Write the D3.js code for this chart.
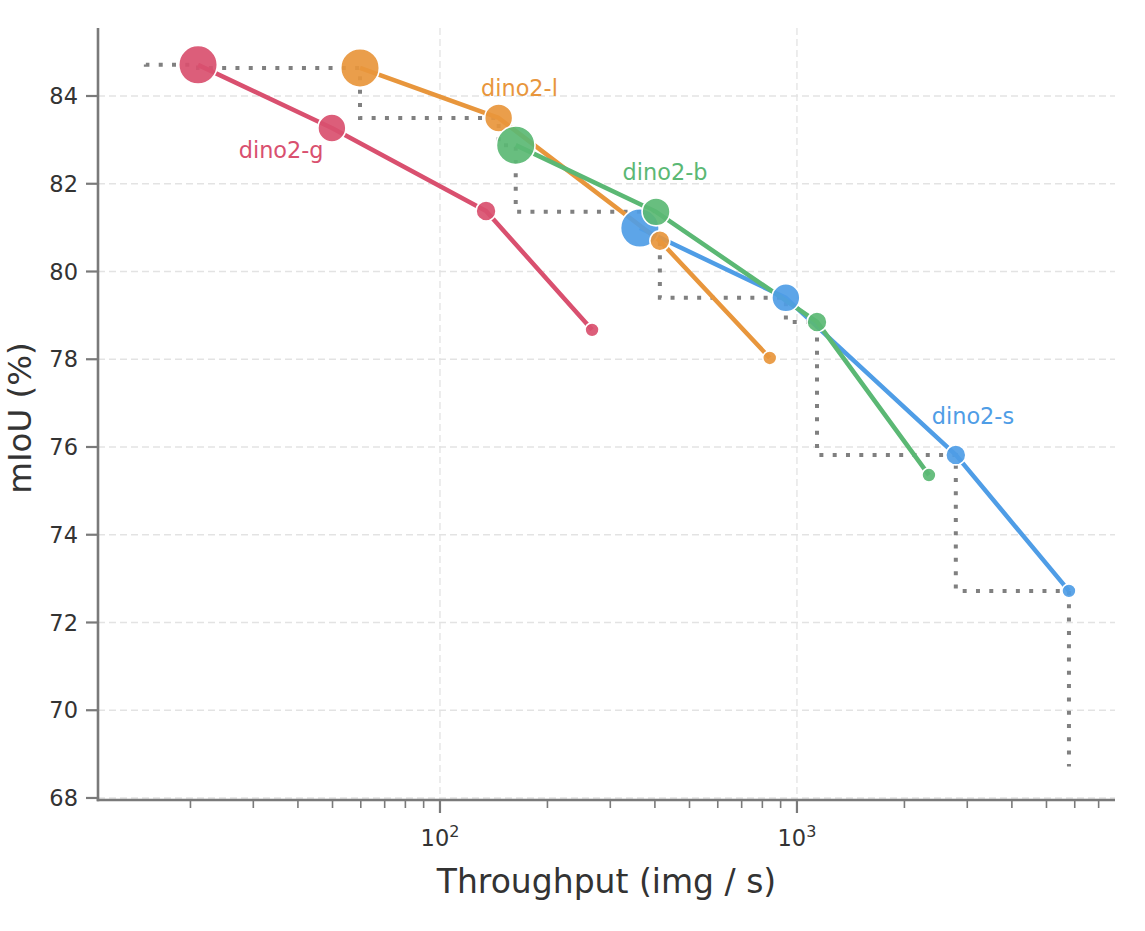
<!DOCTYPE html>
<html><head><meta charset="utf-8">
<script src="https://cdn.jsdelivr.net/npm/d3@7"></script>
<style>body{margin:0;background:#fff} svg{display:block} text{font-family:"DejaVu Sans",sans-serif}</style>
</head><body>
<svg id="chart" width="1145" height="931"></svg>
<script>
// ---- data ----
const seriesNames = ["dino2-s", "dino2-l", "dino2-b", "dino2-g"];
const throughputS = [363, 931, 2786, 5780];
const miouS = [80.99, 79.40, 75.82, 72.72];
const throughputL = [59.7, 146, 413, 839];
const miouL = [84.64, 83.50, 80.70, 78.03];
const throughputB = [163, 403, 1138, 2343];
const miouB = [82.88, 81.36, 78.85, 75.36];
const throughputG = [21.0, 49.8, 134.6, 266.7];
const miouG = [84.71, 83.27, 81.38, 78.67];
const sizeLevel = [4, 3, 2, 1];
const frontierX = [15, 21.0, 59.7, 146, 163, 403, 413, 931, 1138, 2786, 5780, 5780];
const frontierY = [84.72, 84.71, 84.64, 83.50, 82.88, 81.36, 80.70, 79.40, 78.85, 75.82, 72.72, 68.72];
const labelText = ["dino2-s", "dino2-l", "dino2-b", "dino2-g"];
const labelX = [3112, 167, 427, 35.9];
const labelY = [76.52, 84.0, 82.08, 82.58];
const yTicks = [68, 70, 72, 74, 76, 78, 80, 82, 84];
const xMajorTicks = [100, 1000];
const xMajorExp = ["2", "3"];
const xMinorTicks = [20, 30, 40, 50, 60, 70, 80, 90, 200, 300, 400, 500, 600, 700, 800, 900, 2000, 3000, 4000, 5000, 6000, 7000];

const colors = {"dino2-s": "#4f9de6", "dino2-l": "#e8963c", "dino2-b": "#5bb874", "dino2-g": "#d9506f"};
const seriesX = {"dino2-s": throughputS, "dino2-l": throughputL, "dino2-b": throughputB, "dino2-g": throughputG};
const seriesY = {"dino2-s": miouS, "dino2-l": miouL, "dino2-b": miouB, "dino2-g": miouG};

const svg = d3.select("#chart");
const L = 98, R = 1115, T = 28, B = 800;
const x = d3.scaleLog().domain([11.016, 7779]).range([L, R]);
const y = d3.scaleLinear().domain([67.954, 85.55]).range([B, T]);
const r = d3.scaleOrdinal().domain([1, 2, 3, 4]).range([7, 10, 14, 19.3]);

// grid
const grid = svg.append("g");
grid.selectAll(".hg").data(yTicks).join("line")
  .attr("x1", L).attr("x2", R).attr("y1", d => y(d)).attr("y2", d => y(d))
  .attr("stroke", "#e3e3e3").attr("stroke-width", 1.3).attr("stroke-dasharray", "7 4");
grid.selectAll(".vg").data(xMajorTicks).join("line")
  .attr("x1", d => x(d)).attr("x2", d => x(d)).attr("y1", T).attr("y2", B)
  .attr("stroke", "#e3e3e3").attr("stroke-width", 1.3).attr("stroke-dasharray", "7 4");

// frontier
const frontier = frontierX.map((v, i) => [v, frontierY[i]]);
svg.append("path").datum(frontier)
  .attr("d", d3.line().x(d => x(d[0])).y(d => y(d[1])).curve(d3.curveStepBefore))
  .attr("fill", "none").attr("stroke", "#808080").attr("stroke-width", 4)
  .attr("stroke-dasharray", "4 9.3");

// lines
const lineGen = d3.line().x(d => x(d[0])).y(d => y(d[1]));
seriesNames.forEach(s => {
  const pts = seriesX[s].map((v, i) => [v, seriesY[s][i]]);
  svg.append("path").datum(pts).attr("d", lineGen)
    .attr("fill", "none").attr("stroke", colors[s]).attr("stroke-width", 4.5)
    .attr("stroke-linejoin", "round");
});
// points
seriesNames.forEach(s => {
  const pts = seriesX[s].map((v, i) => ({x: v, y: seriesY[s][i], lvl: sizeLevel[i]}));
  svg.append("g").selectAll("circle").data(pts).join("circle")
    .attr("cx", d => x(d.x)).attr("cy", d => y(d.y)).attr("r", d => r(d.lvl))
    .attr("fill", colors[s]).attr("fill-opacity", 0.92)
    .attr("stroke", "#fff").attr("stroke-width", 1.6);
});

// series labels
svg.append("g").selectAll("text").data(labelText).join("text")
  .attr("x", (d, i) => x(labelX[i])).attr("y", (d, i) => y(labelY[i]))
  .attr("text-anchor", "middle").attr("font-size", 22.4)
  .attr("fill", d => colors[d]).text(d => d);

// axes spines
svg.append("line").attr("x1", L).attr("x2", L).attr("y1", T).attr("y2", B + 1.3)
  .attr("stroke", "#7a7a7a").attr("stroke-width", 2.6);
svg.append("line").attr("x1", L - 1.3).attr("x2", R).attr("y1", B).attr("y2", B)
  .attr("stroke", "#7a7a7a").attr("stroke-width", 2.6);

// y ticks
const yt = svg.append("g");
yt.selectAll("line").data(yTicks).join("line")
  .attr("x1", L - 12).attr("x2", L).attr("y1", d => y(d)).attr("y2", d => y(d))
  .attr("stroke", "#7a7a7a").attr("stroke-width", 2.2);
yt.selectAll("text").data(yTicks).join("text")
  .attr("x", L - 20).attr("y", d => y(d)).attr("dy", "0.36em")
  .attr("text-anchor", "end").attr("font-size", 22.5).attr("fill", "#333").text(d => d);

// x ticks
const xt = svg.append("g");
xt.selectAll(".mn").data(xMinorTicks).join("line")
  .attr("x1", d => x(d)).attr("x2", d => x(d)).attr("y1", B).attr("y2", B + 8)
  .attr("stroke", "#7a7a7a").attr("stroke-width", 1.6);
xt.selectAll(".mj").data(xMajorTicks).join("line")
  .attr("x1", d => x(d)).attr("x2", d => x(d)).attr("y1", B).attr("y2", B + 13)
  .attr("stroke", "#7a7a7a").attr("stroke-width", 2.2);
xMajorTicks.forEach((v, i) => {
  const t = xt.append("text").attr("x", x(v)).attr("y", B + 46)
    .attr("text-anchor", "middle").attr("font-size", 22.5).attr("fill", "#333");
  t.append("tspan").text("10");
  t.append("tspan").attr("dy", -9).attr("font-size", 16).text(xMajorExp[i]);
});

// axis titles
svg.append("text").attr("x", (L + R) / 2).attr("y", 893).attr("text-anchor", "middle")
  .attr("font-size", 33).attr("fill", "#333").text("Throughput (img / s)");
svg.append("text").attr("transform", `translate(31,${(T + B) / 2 + 4}) rotate(-90)`)
  .attr("text-anchor", "middle").attr("font-size", 32.5).attr("fill", "#333").text("mIoU (%)");
</script>
</body></html>
